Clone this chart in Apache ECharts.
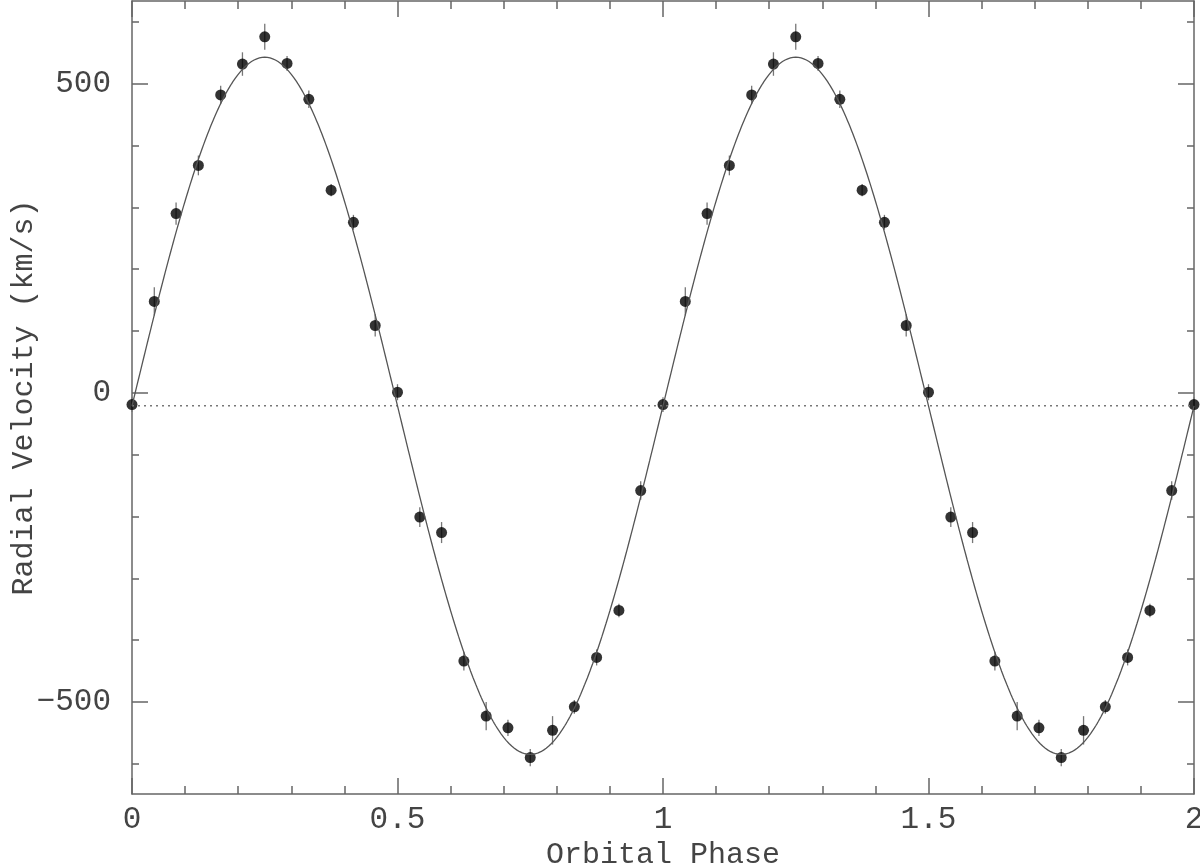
<!DOCTYPE html>
<html>
<head>
<meta charset="utf-8">
<title>Radial velocity curve</title>
<script src="https://cdn.jsdelivr.net/npm/echarts@6.0.0/dist/echarts.min.js"></script>
<style>
html, body { margin: 0; padding: 0; background: #fff; }
#main { width: 1200px; height: 865px; }
</style>
</head>
<body>
<div id="main"></div>
<script>
// one orbital cycle, repeated for phases 1..2
var phases = [0, 0.042, 0.083, 0.125, 0.167, 0.208, 0.25, 0.292, 0.333, 0.375, 0.417, 0.458,
              0.5, 0.542, 0.583, 0.625, 0.667, 0.708, 0.75, 0.792, 0.833, 0.875, 0.917, 0.958];
var velocities = [-19, 148, 290, 368, 482, 532, 576, 533, 475, 328, 276, 109,
                  1, -201, -226, -434, -523, -542, -590, -546, -508, -428, -352, -158];
var errors = [12, 23, 18, 16, 15, 19, 21, 12, 14, 10, 12, 18,
              13, 16, 17, 15, 23, 13, 14, 23, 11, 13, 11, 15];

// sine fit: v = gamma + K sin(2 pi phase)
var gamma = -21;
var K = 564;

var xRange = [0, 2];
var yRange = [-649, 634];
var yMinorRange = [-600, 600];   // tick span of the 100 km/s ticks
var yMajorRange = [-500, 500];   // tick span of the labelled ticks

var points = [];
for (var c = 0; c < 2; c++) {
    for (var i = 0; i < phases.length; i++) {
        points.push([phases[i] + c, velocities[i], errors[i]]);
    }
}
points.push([phases[0] + 2, velocities[0], errors[0]]);

var curve = [];
for (var j = 0; j <= 800; j++) {
    var p = j / 400;
    curve.push([p, gamma + K * Math.sin(2 * Math.PI * p)]);
}

var W = 1200, H = 865;
var gridLeft = 132, gridRight = 6, gridTop = 1, gridBottom = 71;
var pxPerUnit = (H - gridTop - gridBottom) / (yRange[1] - yRange[0]);
var bounds = { left: -200, right: -200, top: -200, bottom: -200 };

// grid whose y extent is a sub-range of the main one, at the same scale,
// so interval ticks land on round values
function subGrid(r) {
    var top = gridTop + (yRange[1] - r[1]) * pxPerUnit;
    var bottom = H - (gridTop + (yRange[1] - r[0]) * pxPerUnit);
    return { left: gridLeft, right: gridRight, top: top, bottom: bottom, outerBounds: bounds };
}

var axisColor = '#666';
var font = 'Liberation Mono';
var lineStyle = { color: axisColor, width: 1.5 };

function xFrame(pos, interval, len, main) {
    var a = {
        type: 'value', gridIndex: 0, position: pos, min: xRange[0], max: xRange[1], interval: interval,
        axisLine: { show: main, onZero: false, lineStyle: lineStyle },
        axisTick: { show: true, inside: true, length: len, lineStyle: lineStyle },
        axisLabel: { show: main && pos === 'bottom', margin: 10, fontFamily: font, fontSize: 31, color: '#444' },
        splitLine: { show: false }
    };
    if (main && pos === 'bottom') {
        a.name = 'Orbital Phase';
        a.nameLocation = 'middle';
        a.nameGap = 40;
        a.nameTextStyle = { fontFamily: font, fontSize: 30, color: '#444' };
    }
    return a;
}

function yTicks(gridIndex, pos, range, interval, len, labels) {
    return {
        type: 'value', gridIndex: gridIndex, position: pos, min: range[0], max: range[1], interval: interval,
        axisLine: { show: false, onZero: false },
        axisTick: { show: true, inside: true, length: len, lineStyle: lineStyle },
        axisLabel: { show: labels, margin: 21, fontFamily: font, fontSize: 31, color: '#444',
                     formatter: function (v) { return String(v).replace('-', '\u2212'); } },
        splitLine: { show: false }
    };
}

function yLine(pos, named) {
    var a = {
        type: 'value', gridIndex: 0, position: pos, min: yRange[0], max: yRange[1],
        axisLine: { show: true, onZero: false, lineStyle: lineStyle },
        axisTick: { show: false },
        axisLabel: { show: false },
        splitLine: { show: false }
    };
    if (named) {
        a.name = 'Radial Velocity (km/s)';
        a.nameLocation = 'middle';
        a.nameGap = 93;
        a.nameTextStyle = { fontFamily: font, fontSize: 30, color: '#444' };
    }
    return a;
}

var chart = echarts.init(document.getElementById('main'));
chart.setOption({
    animation: false,
    backgroundColor: '#fff',
    grid: [
        { left: gridLeft, right: gridRight, top: gridTop, bottom: gridBottom, outerBounds: bounds },
        subGrid(yMinorRange),
        subGrid(yMajorRange)
    ],
    xAxis: [
        xFrame('bottom', 0.5, 16, true),
        xFrame('bottom', 0.1, 8, false),
        xFrame('top', 0.5, 16, true),
        xFrame('top', 0.1, 8, false),
        { type: 'value', gridIndex: 1, min: xRange[0], max: xRange[1], show: false },
        { type: 'value', gridIndex: 2, min: xRange[0], max: xRange[1], show: false }
    ],
    yAxis: [
        yLine('left', true),
        yLine('right', false),
        yTicks(1, 'left', yMinorRange, 100, 7, false),
        yTicks(1, 'right', yMinorRange, 100, 7, false),
        yTicks(2, 'left', yMajorRange, 500, 16, true),
        yTicks(2, 'right', yMajorRange, 500, 16, false)
    ],
    series: [
        {
            type: 'line', xAxisIndex: 0, yAxisIndex: 0,
            data: [[xRange[0], gamma], [xRange[1], gamma]], symbol: 'none', silent: true,
            lineStyle: { color: '#777', width: 1.5, type: [2, 4] }
        },
        {
            type: 'line', xAxisIndex: 0, yAxisIndex: 0, data: curve, symbol: 'none', silent: true,
            lineStyle: { color: '#555', width: 1.3 }
        },
        {
            type: 'custom', xAxisIndex: 0, yAxisIndex: 0, data: points,
            renderItem: function (params, api) {
                var x = api.value(0), y = api.value(1), e = api.value(2);
                var a = api.coord([x, y - e]);
                var b = api.coord([x, y + e]);
                return { type: 'line', shape: { x1: a[0], y1: a[1], x2: b[0], y2: b[1] },
                         style: { stroke: '#777', lineWidth: 1.3 } };
            }
        },
        {
            type: 'scatter', xAxisIndex: 0, yAxisIndex: 0, data: points, symbol: 'circle', symbolSize: 11,
            itemStyle: { color: '#000' }
        }
    ]
});
</script>
</body>
</html>
